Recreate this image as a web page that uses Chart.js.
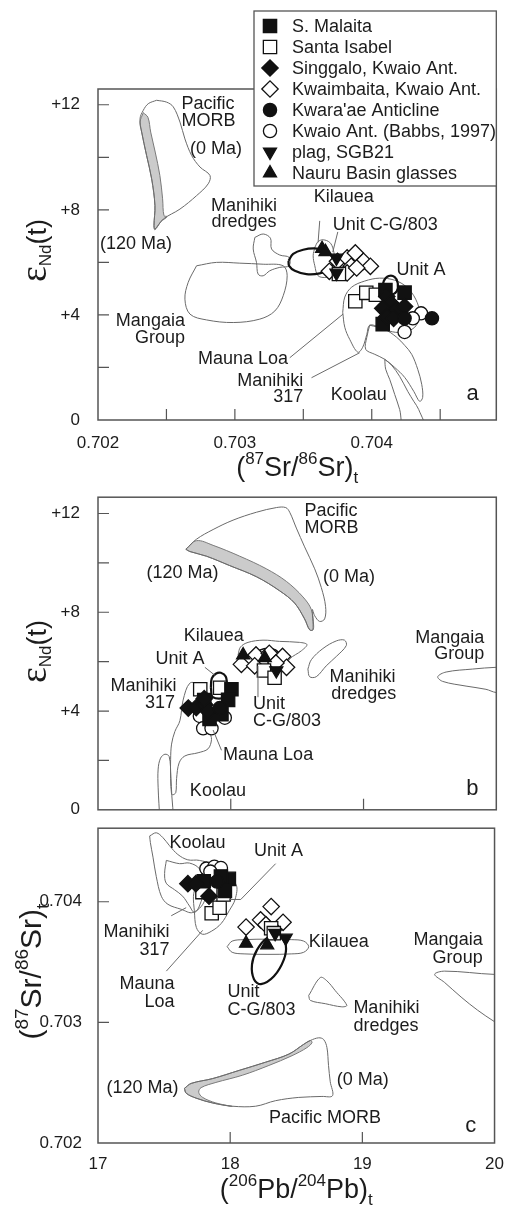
<!DOCTYPE html>
<html>
<head>
<meta charset="utf-8">
<script src="https://cdn.jsdelivr.net/npm/chart.js@4.4.1/dist/chart.umd.min.js"></script>
<style>
  html, body { margin: 0; padding: 0; background: #fff; }
  #wrap { position: relative; width: 507px; height: 1206px; overflow: hidden; }
  #wrap canvas { position: absolute; left: 0; }
</style>
</head>
<body>
<div id="wrap">
  <canvas id="panelA" width="507" height="490" style="top:0px;width:507px;height:490px"></canvas>
  <canvas id="panelB" width="507" height="353" style="top:477px;width:507px;height:353px"></canvas>
  <canvas id="panelC" width="507" height="396" style="top:810px;width:507px;height:396px"></canvas>
</div>
<script>
// ---------------- axis ticks ----------------
const srTickValues = [0.702, 0.7025, 0.703, 0.7035, 0.704, 0.7045];
const srTickLabels = ['0.702', '', '0.703', '', '0.704', ''];
const ndTickValues = [0, 2, 4, 6, 8, 10, 12];
const ndTickLabels = ['0', '', '+4', '', '+8', '', '+12'];
const pbTickValues = [17, 18, 19, 20];
const pbTickLabels = ['17', '18', '19', '20'];
const srYTickValues = [0.702, 0.703, 0.704];
const srYTickLabels = ['0.702', '0.703', '0.704'];

// ---------------- sample groups ----------------
const seriesNames = ['S. Malaita', 'Santa Isabel', 'Singgalo, Kwaio Ant.', 'Kwaimbaita, Kwaio Ant.',
  "Kwara'ae Anticline", 'Kwaio Ant. (Babbs, 1997)', 'plag, SGB21', 'Nauru Basin glasses'];

// (a) 87Sr/86Sr vs eNd
const srNdSMalaita = [[0.70410, 4.95], [0.70424, 4.85], [0.70408, 3.65]];
const srNdSantaIsabel = [[0.70388, 4.52], [0.70396, 4.84], [0.70403, 4.77], [0.70376, 5.56]];
const srNdSinggalo = [[0.70411, 4.70], [0.70414, 4.44], [0.70408, 4.25], [0.70418, 4.18], [0.70411, 3.93], [0.70424, 4.32], [0.70416, 3.87]];
const srNdKwaimbaita = [[0.70375, 6.04], [0.70382, 6.17], [0.70388, 6.36], [0.70385, 5.85], [0.70394, 6.04], [0.70399, 5.85], [0.70382, 5.60], [0.70369, 5.66], [0.70389, 5.79]];
const srNdKwaraae = [[0.70424, 3.87], [0.70444, 3.87]];
const srNdBabbs = [[0.70436, 4.06], [0.70430, 3.87], [0.70424, 3.35]];
const srNdPlag = [[0.703742, 6.17], [0.703742, 5.60]];
const srNdNauru = [[0.703637, 6.52], [0.703662, 6.40]];

// (b) 206Pb/204Pb vs eNd
const pbNdSMalaita = [[18.005, 4.88], [17.98, 4.45], [17.84, 3.68], [17.80, 4.44], [17.93, 3.87]];
const pbNdSantaIsabel = [[17.77, 4.88], [17.92, 4.94], [18.25, 5.64], [18.33, 5.35]];
const pbNdSinggalo = [[17.68, 4.12], [17.74, 4.14], [17.805, 4.25], [17.83, 3.99], [17.80, 4.50]];
const pbNdKwaimbaita = [[18.08, 5.89], [18.19, 6.27], [18.18, 5.83], [18.39, 6.21], [18.42, 5.77], [18.29, 6.34], [18.34, 5.95]];
const pbNdKwaraae = [[17.917, 4.12]];
const pbNdBabbs = [[17.767, 3.80], [17.792, 3.30], [17.855, 3.30], [17.955, 3.73]];
const pbNdPlag = [[18.343, 5.64]];
const pbNdNauru = [[18.093, 6.27], [18.256, 6.15]];

// (c) 206Pb/204Pb vs 87Sr/86Sr
const pbSrSMalaita = [[17.80, 0.70417], [17.99, 0.70419], [17.96, 0.70409], [17.93, 0.70421]];
const pbSrSantaIsabel = [[17.86, 0.703905], [17.92, 0.70395], [17.79, 0.70408], [17.95, 0.70406], [18.31, 0.70378], [18.33, 0.70374]];
const pbSrSinggalo = [[17.68, 0.70415], [17.74, 0.70415], [17.84, 0.704046]];
const pbSrKwaimbaita = [[18.12, 0.70379], [18.23, 0.70385], [18.31, 0.70396], [18.40, 0.70383], [18.27, 0.70381]];
const pbSrKwaraae = [[17.90, 0.704168]];
const pbSrBabbs = [[17.82, 0.704275], [17.88, 0.70429], [17.93, 0.70428], [17.85, 0.70425]];
const pbSrPlag = [[18.42, 0.70370], [18.34, 0.70374]];
const pbSrNauru = [[18.12, 0.703655], [18.28, 0.703641]];

// ---------------- reference fields (outlines) ----------------
// (a)
const aMorb = [[0.702428, 12.17], [0.702501, 12.10], [0.70255, 11.92], [0.702599, 11.34], [0.702635, 10.70], [0.702684, 10.07], [0.702745, 9.63], [0.702818, 9.31], [0.702805, 8.99], [0.70272, 8.54], [0.702599, 8.03], [0.702477, 7.65], [0.702416, 7.27], [0.702409, 7.40], [0.702416, 8.16], [0.702392, 9.18], [0.702355, 10.07], [0.702319, 10.96], [0.702307, 11.47], [0.702331, 11.79], [0.702367, 12.04], [0.702428, 12.17]];
const aMorbOld = [[0.702331, 11.70], [0.702307, 11.34], [0.702319, 10.96], [0.702355, 10.07], [0.702392, 9.18], [0.702416, 8.16], [0.702409, 7.40], [0.702416, 7.24], [0.702460, 7.55], [0.702505, 7.74], [0.702482, 7.78], [0.702472, 8.42], [0.702452, 9.31], [0.702418, 10.20], [0.702385, 10.96], [0.702365, 11.52], [0.702331, 11.70]];
const aMangaia = [[0.70272, 5.87], [0.702866, 6.0], [0.703036, 5.97], [0.703207, 5.93], [0.703353, 5.87], [0.703382, 5.49], [0.703353, 4.73], [0.703292, 4.15], [0.703182, 3.84], [0.702988, 3.71], [0.702793, 3.81], [0.702672, 4.03], [0.702635, 4.6], [0.702659, 5.24], [0.70272, 5.87]];
const aDredges = [[0.703146, 6.95], [0.703207, 7.08], [0.70326, 6.92], [0.703268, 6.51], [0.703328, 6.28], [0.703396, 6.19], [0.703396, 5.87], [0.703328, 5.81], [0.703255, 5.68], [0.703207, 5.49], [0.70317, 5.55], [0.703158, 6.0], [0.703134, 6.51], [0.703146, 6.95]];
const aUnitCG = [[0.703392, 6.06], [0.703426, 6.32], [0.703499, 6.48], [0.703584, 6.53], [0.703657, 6.44], [0.703706, 6.25], [0.703718, 6.0], [0.703693, 5.74], [0.70362, 5.58], [0.703523, 5.55], [0.703438, 5.68], [0.703396, 5.87], [0.703392, 6.06]];
const aKilauea = [[0.703584, 6.57], [0.703608, 6.79], [0.703645, 6.86], [0.703693, 6.76], [0.703718, 6.51], [0.70373, 6.0], [0.703718, 5.55], [0.703669, 5.43], [0.703608, 5.49], [0.703584, 5.87], [0.703572, 6.25], [0.703584, 6.57]];
const aMaunaLoa = [[0.703788, 4.10], [0.703803, 4.68], [0.703854, 5.06], [0.703949, 5.29], [0.704058, 5.40], [0.704168, 5.32], [0.704255, 5.06], [0.704321, 4.60], [0.70435, 4.03], [0.704314, 3.53], [0.704219, 3.34], [0.704131, 3.38], [0.704058, 3.53], [0.703985, 3.61], [0.703964, 3.26], [0.703934, 2.77], [0.703898, 2.58], [0.703839, 3.07], [0.703803, 3.53], [0.703788, 4.10]];
const aManihiki317 = [[0.703985, 3.61], [0.704095, 3.45], [0.704182, 3.15], [0.704241, 2.84], [0.704292, 2.50], [0.704336, 1.93], [0.704365, 1.36], [0.704372, 0.86], [0.70435, 0.71], [0.704307, 1.09], [0.704241, 1.62], [0.704168, 2.00], [0.704095, 2.31], [0.704022, 2.50], [0.703956, 2.69], [0.703964, 3.15], [0.703985, 3.61]];
const aKoolau = [[0.704095, 2.31], [0.704146, 2.08], [0.704204, 1.66], [0.704263, 1.09], [0.704307, 0.71], [0.704343, 0.40], [0.704387, -0.36], [0.70424, -0.36], [0.704204, 0.40], [0.704168, 0.97], [0.704131, 1.55], [0.704102, 1.93], [0.704095, 2.31]];
const aUnitA = [[0.70408, 4.98], [0.704088, 5.29], [0.704124, 5.48], [0.704168, 5.44], [0.70419, 5.21], [0.704182, 4.90], [0.704131, 4.75], [0.70408, 4.98]];

// (b)
const bMorb = [[17.662, 10.55], [17.742, 10.96], [17.867, 11.35], [18.017, 11.73], [18.193, 12.05], [18.344, 12.24], [18.414, 12.24], [18.444, 12.05], [18.494, 11.41], [18.556, 10.65], [18.632, 9.76], [18.682, 9.0], [18.714, 8.24], [18.707, 7.73], [18.669, 7.63], [18.632, 7.86], [18.614, 8.11], [18.619, 7.29], [18.594, 7.29], [18.556, 7.73], [18.481, 8.37], [18.368, 8.87], [18.193, 9.44], [17.992, 9.89], [17.817, 10.27], [17.692, 10.46], [17.662, 10.55]];
const bMorbOld = [[17.662, 10.55], [17.742, 10.90], [17.867, 10.71], [18.068, 10.27], [18.268, 9.76], [18.419, 9.25], [18.544, 8.62], [18.607, 8.11], [18.624, 7.48], [18.619, 7.29], [18.594, 7.29], [18.556, 7.73], [18.481, 8.37], [18.368, 8.87], [18.193, 9.44], [17.992, 9.89], [17.817, 10.27], [17.692, 10.46], [17.662, 10.55]];
const bKilauea = [[18.055, 6.27], [18.073, 6.59], [18.130, 6.78], [18.243, 6.87], [18.368, 6.82], [18.519, 6.78], [18.574, 6.69], [18.532, 6.44], [18.444, 6.11], [18.414, 5.77], [18.368, 5.51], [18.268, 5.45], [18.168, 5.64], [18.093, 5.89], [18.055, 6.27]];
const bUnitCG = [[18.192, 6.16], [18.205, 6.40], [18.25, 6.52], [18.31, 6.52], [18.355, 6.40], [18.364, 6.16], [18.35, 5.92], [18.30, 5.80], [18.25, 5.80], [18.205, 5.92], [18.192, 6.16]];
const bDredges = [[18.581, 5.70], [18.607, 6.08], [18.694, 6.53], [18.795, 6.84], [18.857, 6.87], [18.870, 6.65], [18.795, 6.21], [18.719, 5.83], [18.644, 5.39], [18.594, 5.39], [18.581, 5.70]];
const bMangaia = [[20.3, 5.80], [19.998, 5.77], [19.822, 5.70], [19.622, 5.58], [19.559, 5.39], [19.596, 5.20], [19.772, 5.01], [19.922, 4.88], [19.998, 4.75], [20.3, 4.60]];
const bManihiki317 = [[17.767, 5.10], [17.692, 5.13], [17.641, 4.44], [17.617, 3.61], [17.579, 3.17], [17.554, 2.66], [17.547, 2.03], [17.547, 1.27], [17.554, 0.63], [17.566, 0.61], [17.586, 0.70], [17.592, 1.27], [17.611, 1.90], [17.654, 2.18], [17.754, 2.31], [17.829, 2.47], [17.855, 2.85], [17.842, 3.17], [17.857, 3.80], [17.842, 4.56], [17.767, 5.10]];
const bKoolau = [[17.466, -0.4], [17.453, 0.89], [17.453, 1.65], [17.471, 2.09], [17.504, 2.25], [17.536, 2.16], [17.549, 1.33], [17.556, 0.57], [17.571, -0.4]];
const bUnitA = [[17.850, 4.94], [17.857, 5.32], [17.887, 5.51], [17.925, 5.55], [17.962, 5.40], [17.970, 5.02], [17.955, 4.56], [17.865, 4.56], [17.850, 4.94]];

// (c)
const cMorb = [[17.654, 0.702453], [17.705, 0.702494], [17.867, 0.702534], [18.068, 0.702602], [18.268, 0.70267], [18.444, 0.702737], [18.556, 0.702818], [18.607, 0.70285], [18.669, 0.702872], [18.707, 0.702858], [18.732, 0.702791], [18.744, 0.702643], [18.757, 0.702508], [18.774, 0.702392], [18.694, 0.702386], [18.519, 0.702378], [18.344, 0.702351], [18.193, 0.702305], [18.017, 0.702305], [17.867, 0.702332], [17.742, 0.702372], [17.667, 0.702413], [17.654, 0.702453]];
const cMorbOld = [[17.654, 0.702453], [17.705, 0.702494], [17.867, 0.702534], [18.068, 0.702602], [18.268, 0.70267], [18.444, 0.702737], [18.556, 0.702818], [18.607, 0.70285], [18.619, 0.702832], [18.581, 0.702791], [18.468, 0.702724], [18.293, 0.702643], [18.093, 0.702562], [17.892, 0.702502], [17.78, 0.702459], [17.762, 0.702421], [17.792, 0.702378], [17.892, 0.702332], [18.017, 0.702303], [17.867, 0.702332], [17.742, 0.702372], [17.667, 0.702413], [17.654, 0.702453]];
const cKoolau = [[17.391, 0.704546], [17.441, 0.704572], [17.491, 0.704532], [17.541, 0.704465], [17.604, 0.704392], [17.679, 0.704348], [17.767, 0.704343], [17.842, 0.704305], [17.805, 0.704006], [17.717, 0.703911], [17.629, 0.703938], [17.529, 0.703979], [17.479, 0.704046], [17.441, 0.704208], [17.416, 0.70437], [17.396, 0.704492], [17.391, 0.704546]];
const cManihiki317 = [[17.517, 0.704343], [17.504, 0.704235], [17.516, 0.704154], [17.579, 0.7041], [17.641, 0.704046], [17.692, 0.703965], [17.729, 0.703911], [17.767, 0.703965], [17.805, 0.704127], [17.767, 0.704273], [17.692, 0.704321], [17.617, 0.704316], [17.517, 0.704343]];
const cMaunaLoa = [[17.737, 0.704127], [17.805, 0.704208], [17.955, 0.704224], [18.045, 0.704143], [18.038, 0.704022], [17.992, 0.703925], [17.932, 0.70382], [17.857, 0.703755], [17.789, 0.703731], [17.744, 0.703787], [17.729, 0.703925], [17.722, 0.704046], [17.737, 0.704127]];
const cKilauea = [[17.977, 0.703628], [18.015, 0.703674], [18.105, 0.703686], [18.286, 0.70369], [18.466, 0.703686], [18.556, 0.703674], [18.594, 0.703628], [18.556, 0.703581], [18.466, 0.703568], [18.286, 0.703564], [18.105, 0.703568], [18.015, 0.703581], [17.977, 0.703628]];
const cUnitCG = [[18.381, 0.703722], [18.421, 0.703641], [18.406, 0.70352], [18.331, 0.703382], [18.233, 0.703317], [18.180, 0.703358], [18.165, 0.703479], [18.203, 0.703601], [18.278, 0.703698], [18.381, 0.703722]];
const cDredges = [[18.594, 0.703223], [18.682, 0.703372], [18.732, 0.703344], [18.795, 0.703263], [18.882, 0.703142], [18.844, 0.703129], [18.720, 0.703155], [18.607, 0.703182], [18.594, 0.703223]];
const cMangaia = [[20.3, 0.70340], [19.998, 0.703398], [19.622, 0.703425], [19.547, 0.703398], [19.622, 0.703331], [19.747, 0.70321], [19.872, 0.703101], [19.998, 0.703007], [20.3, 0.70280]];

// ---------------- drawing styles ----------------
const FONT = '"Liberation Sans", Arial, Helvetica, sans-serif';
const INK = '#1c1c1c';
const markerStyles = [
  { pointStyle: 'rect', radius: 9.4, fill: '#111', rotation: 0, order: 6 },
  { pointStyle: 'rect', radius: 9.4, fill: '#fff', rotation: 0, order: 8 },
  { pointStyle: 'rectRot', radius: 8.2, fill: '#111', rotation: 0, order: 5 },
  { pointStyle: 'rectRot', radius: 8.2, fill: '#fff', rotation: 0, order: 9 },
  { pointStyle: 'circle', radius: 6.6, fill: '#111', rotation: 0, order: 4 },
  { pointStyle: 'circle', radius: 6.6, fill: '#fff', rotation: 0, order: 7 },
  { pointStyle: 'triangle', radius: 7.5, fill: '#111', rotation: 180, order: 3 },
  { pointStyle: 'triangle', radius: 7.5, fill: '#111', rotation: 0, order: 2 }
];

const toXY = arr => arr.map(([x, y]) => ({ x, y }));

function markerSets(groups) {
  return groups.map((g, i) => {
    const s = markerStyles[i];
    return {
      type: 'scatter', label: seriesNames[i], data: toXY(g), order: s.order,
      pointStyle: s.pointStyle, pointRadius: s.radius, pointRotation: s.rotation,
      pointBackgroundColor: s.fill, pointBorderColor: '#111', pointBorderWidth: 1.3,
      pointHoverRadius: s.radius, showLine: false
    };
  });
}
function field(arr, kind) {
  const base = { type: 'line', data: toXY(arr), pointRadius: 0, pointHoverRadius: 0, tension: 0.35, order: 100 };
  if (kind === 'shade') return Object.assign(base, { order: 101, fill: 'shape', backgroundColor: '#cbcbcb', borderColor: '#7a7a7a', borderWidth: 1 });
  if (kind === 'bold') return Object.assign(base, { order: 90, fill: false, borderColor: '#111', borderWidth: 2.2 });
  return Object.assign(base, { fill: false, borderColor: '#6a6a6a', borderWidth: 1 });
}

// ---------------- rich text (sub/superscripts) ----------------
function richParts(spec, F, S) {
  return spec.map(([t, kind]) => {
    if (kind === 'sup') return { t, font: `${S}px ${FONT}`, dy: -0.42 * F };
    if (kind === 'sub') return { t, font: `${S}px ${FONT}`, dy: 0.28 * F };
    if (kind === 'eps') return { t, font: `${F * 1.4}px "Liberation Serif", "DejaVu Serif", serif`, dy: 0 };
    if (kind === 'nd') return { t, font: `${S}px ${FONT}`, dy: 0.2 * F };
    return { t, font: `${F}px ${FONT}`, dy: 0 };
  });
}
function drawRich(ctx, parts, cx, cy, rot, F) {
  ctx.save();
  ctx.translate(cx, cy);
  ctx.rotate(rot);
  let w = 0;
  parts.forEach(p => { ctx.font = p.font; p.w = ctx.measureText(p.t).width; w += p.w; });
  let x = -w / 2;
  ctx.textAlign = 'left';
  ctx.textBaseline = 'alphabetic';
  ctx.fillStyle = INK;
  parts.forEach(p => { ctx.font = p.font; ctx.fillText(p.t, x, 0.36 * F + p.dy); x += p.w; });
  ctx.restore();
}
const srTitle = [['(', 'n'], ['87', 'sup'], ['Sr', 'n'], ['/', 'n'], ['86', 'sup'], ['Sr', 'n'], [')', 'n'], ['t', 'sub']];
const pbTitle = [['(', 'n'], ['206', 'sup'], ['Pb', 'n'], ['/', 'n'], ['204', 'sup'], ['Pb', 'n'], [')', 'n'], ['t', 'sub']];
const ndTitle = [['\u03B5', 'eps'], ['Nd', 'nd'], ['(t)', 'n']];

// ---------------- panel plugin: frame, inner ticks, labels, titles, legend ----------------
const panelSetup = {};
const panelPlugin = {
  id: 'panelDecor',
  afterDatasetsDraw(chart) {
    const cfg = panelSetup[chart.canvas.id];
    const ctx = chart.ctx, xs = chart.scales.x, ys = chart.scales.y;
    ctx.save();
    ctx.strokeStyle = '#6a6a6a';
    ctx.lineWidth = 1;
    cfg.leaders.forEach(path => {
      ctx.beginPath();
      path.forEach(([x, y], i) => {
        const px = xs.getPixelForValue(x), py = ys.getPixelForValue(y);
        if (i) ctx.lineTo(px, py); else ctx.moveTo(px, py);
      });
      ctx.stroke();
    });
    ctx.fillStyle = INK;
    ctx.textBaseline = 'middle';
    cfg.labels.forEach(l => {
      ctx.font = `${l.size || 18}px ${FONT}`;
      ctx.textAlign = l.align || 'center';
      ctx.fillText(l.text, xs.getPixelForValue(l.x), ys.getPixelForValue(l.y));
    });
    ctx.restore();
  },
  afterDraw(chart) {
    const cfg = panelSetup[chart.canvas.id];
    const ctx = chart.ctx, xs = chart.scales.x, ys = chart.scales.y, a = chart.chartArea;
    ctx.save();
    ctx.strokeStyle = '#555';
    ctx.lineWidth = 1.5;
    ctx.strokeRect(a.left, a.top, a.right - a.left, a.bottom - a.top);
    ctx.lineWidth = 1.2;
    ctx.beginPath();
    cfg.xMarks.forEach(v => { const px = xs.getPixelForValue(v); ctx.moveTo(px, a.bottom); ctx.lineTo(px, a.bottom - 11); });
    cfg.yMarks.forEach(v => { const py = ys.getPixelForValue(v); ctx.moveTo(a.left, py); ctx.lineTo(a.left + 11, py); });
    ctx.stroke();
    ctx.restore();
    if (cfg.xTitle) drawRich(ctx, richParts(cfg.xTitle, 27, 17), (a.left + a.right) / 2, a.bottom + cfg.xTitleGap, 0, 27);
    if (cfg.yTitle) drawRich(ctx, richParts(cfg.yTitle, cfg.yTitleSize, cfg.yTitleSub), cfg.yTitleX, (a.top + a.bottom) / 2 + cfg.yTitleShift, -Math.PI / 2, cfg.yTitleSize);
    if (cfg.legend) drawLegend(ctx, a);
  }
};

function drawLegend(ctx, a) {
  const left = 254, top = 11, right = a.right, bottom = 186;
  ctx.save();
  ctx.fillStyle = '#fff';
  ctx.fillRect(left, top, right - left, bottom - top);
  ctx.strokeStyle = '#555';
  ctx.lineWidth = 1.3;
  ctx.strokeRect(left, top, right - left, bottom - top);
  seriesNames.forEach((name, i) => {
    const s = markerStyles[i];
    const y = top + 15 + i * 21;
    ctx.fillStyle = s.fill;
    ctx.strokeStyle = '#111';
    ctx.lineWidth = 1.3;
    Chart.helpers.drawPoint(ctx, { pointStyle: s.pointStyle, rotation: s.rotation, radius: s.radius, borderWidth: 1.3 }, 270, y);
    ctx.fillStyle = INK;
    ctx.font = `18px ${FONT}`;
    ctx.textAlign = 'left';
    ctx.textBaseline = 'middle';
    ctx.fillText(name, 292, y + 1);
  });
  ctx.restore();
}

function axisCfg(min, max, values, labels, showLabels, fitKey, fitVal, pad) {
  return {
    type: 'linear', min, max,
    grid: { display: false }, border: { display: false },
    ticks: {
      display: showLabels, autoSkip: false, maxRotation: 0, padding: pad,
      color: INK, font: { family: FONT, size: 17 },
      callback: (v, i) => labels[i]
    },
    afterBuildTicks: s => { s.ticks = values.map(v => ({ value: v })); },
    afterFit: s => { s[fitKey] = fitVal; }
  };
}

function makePanel(id, datasets, opts) {
  panelSetup[id] = opts.decor;
  return new Chart(document.getElementById(id), {
    type: 'scatter',
    data: { datasets },
    options: {
      responsive: false, animation: false, events: [],
      layout: { padding: { top: opts.padTop, right: 10, bottom: 0, left: 0 } },
      plugins: { legend: { display: false }, tooltip: { enabled: false } },
      scales: { x: opts.x, y: opts.y }
    },
    plugins: [panelPlugin]
  });
}

// ---------- panel a ----------
makePanel('panelA', [
  ...markerSets([srNdSMalaita, srNdSantaIsabel, srNdSinggalo, srNdKwaimbaita, srNdKwaraae, srNdBabbs, srNdPlag, srNdNauru]),
  field(aMorbOld, 'shade'), field(aMorb), field(aMangaia), field(aDredges), field(aKilauea),
  field(aMaunaLoa), field(aManihiki317), field(aKoolau),
  field(aUnitCG, 'bold'), field(aUnitA, 'bold')
], {
  padTop: 89,
  x: axisCfg(0.702, 0.70491, srTickValues, srTickLabels, true, 'height', 70, 5),
  y: axisCfg(0, 12.6, ndTickValues, ndTickLabels, true, 'width', 98, 10),
  decor: {
    xMarks: srTickValues.slice(1), yMarks: ndTickValues.slice(1),
    xTitle: srTitle, xTitleGap: 46,
    yTitle: ndTitle, yTitleSize: 27, yTitleSub: 17, yTitleX: 36, yTitleShift: -4,
    legend: true,
    labels: [
      { text: 'Pacific', x: 0.70261, y: 12.02, align: 'left' },
      { text: 'MORB', x: 0.70261, y: 11.38, align: 'left' },
      { text: '(0 Ma)', x: 0.702672, y: 10.32, align: 'left' },
      { text: '(120 Ma)', x: 0.702015, y: 6.70, align: 'left' },
      { text: 'Manihiki', x: 0.703066, y: 8.16 },
      { text: 'dredges', x: 0.703066, y: 7.53 },
      { text: 'Kilauea', x: 0.703796, y: 8.48 },
      { text: 'Unit C-G/803', x: 0.703715, y: 7.44, align: 'left' },
      { text: 'Unit A', x: 0.70418, y: 5.71, align: 'left' },
      { text: 'Mangaia', x: 0.702635, y: 3.77, align: 'right' },
      { text: 'Group', x: 0.702635, y: 3.11, align: 'right' },
      { text: 'Mauna Loa', x: 0.703389, y: 2.31, align: 'right' },
      { text: 'Manihiki', x: 0.703499, y: 1.48, align: 'right' },
      { text: '317', x: 0.703499, y: 0.88, align: 'right' },
      { text: 'Koolau', x: 0.703905, y: 0.94 },
      { text: 'a', x: 0.704737, y: 1.01, size: 22 }
    ],
    leaders: [
      [[0.70362, 7.58], [0.703608, 6.76]],
      [[0.703752, 7.16], [0.703715, 6.39]],
      [[0.703401, 2.37], [0.70379, 4.03]],
      [[0.70356, 1.61], [0.703912, 2.56]]
    ]
  }
});

// ---------- panel b ----------
makePanel('panelB', [
  ...markerSets([pbNdSMalaita, pbNdSantaIsabel, pbNdSinggalo, pbNdKwaimbaita, pbNdKwaraae, pbNdBabbs, pbNdPlag, pbNdNauru]),
  field(bMorbOld, 'shade'), field(bMorb), field(bKilauea), field(bDredges), field(bMangaia),
  field(bManihiki317), field(bKoolau),
  Object.assign(field(bUnitCG, 'bold'), { borderWidth: 1.6 }), field(bUnitA, 'bold')
], {
  padTop: 10,
  x: axisCfg(17, 20, pbTickValues, pbTickLabels, false, 'height', 10, 0),
  y: axisCfg(0, 12.66, ndTickValues, ndTickLabels, true, 'width', 98, 10),
  decor: {
    xMarks: [18, 19], yMarks: ndTickValues.slice(1),
    yTitle: ndTitle, yTitleSize: 27, yTitleSub: 17, yTitleX: 36, yTitleShift: -2,
    labels: [
      { text: 'Pacific', x: 18.556, y: 12.10, align: 'left' },
      { text: 'MORB', x: 18.556, y: 11.41, align: 'left' },
      { text: '(120 Ma)', x: 17.366, y: 9.57, align: 'left' },
      { text: '(0 Ma)', x: 18.694, y: 9.44, align: 'left' },
      { text: 'Kilauea', x: 17.872, y: 7.03 },
      { text: 'Mangaia', x: 19.91, y: 6.97, align: 'right' },
      { text: 'Group', x: 19.91, y: 6.31, align: 'right' },
      { text: 'Unit A', x: 17.617, y: 6.11 },
      { text: 'Manihiki', x: 17.592, y: 5.01, align: 'right' },
      { text: '317', x: 17.58, y: 4.31, align: 'right' },
      { text: 'Unit', x: 18.168, y: 4.28, align: 'left' },
      { text: 'C-G/803', x: 18.168, y: 3.58, align: 'left' },
      { text: 'Manihiki', x: 18.744, y: 5.39, align: 'left' },
      { text: 'dredges', x: 18.757, y: 4.69, align: 'left' },
      { text: 'Mauna Loa', x: 17.942, y: 2.22, align: 'left' },
      { text: 'Koolau', x: 17.692, y: 0.76, align: 'left' },
      { text: 'b', x: 19.82, y: 0.84, size: 22 }
    ],
    leaders: [
      [[17.805, 5.77], [17.88, 5.45]],
      [[18.205, 4.56], [18.205, 5.83]],
      [[17.93, 2.41], [17.867, 3.23]]
    ]
  }
});

// ---------- panel c ----------
makePanel('panelC', [
  ...markerSets([pbSrSMalaita, pbSrSantaIsabel, pbSrSinggalo, pbSrKwaimbaita, pbSrKwaraae, pbSrBabbs, pbSrPlag, pbSrNauru]),
  field(cMorbOld, 'shade'), field(cMorb), field(cKoolau), field(cManihiki317), field(cMaunaLoa),
  field(cKilauea), field(cDredges), field(cMangaia),
  field(cUnitCG, 'bold')
], {
  padTop: 10,
  x: axisCfg(17, 20, pbTickValues, pbTickLabels, true, 'height', 63, 3),
  y: axisCfg(0.702, 0.70461, srYTickValues, srYTickLabels, true, 'width', 98, 8),
  decor: {
    xMarks: [18, 19], yMarks: [0.703, 0.704],
    xTitle: pbTitle, xTitleGap: 45,
    yTitle: srTitle, yTitleSize: 30, yTitleSub: 19, yTitleX: 30, yTitleShift: -14,
    labels: [
      { text: 'Koolau', x: 17.541, y: 0.704491, align: 'left' },
      { text: 'Unit A', x: 18.18, y: 0.704424, align: 'left' },
      { text: 'Manihiki', x: 17.541, y: 0.703749, align: 'right' },
      { text: '317', x: 17.541, y: 0.703601, align: 'right' },
      { text: 'Mauna', x: 17.579, y: 0.703317, align: 'right' },
      { text: 'Loa', x: 17.579, y: 0.703169, align: 'right' },
      { text: 'Kilauea', x: 18.594, y: 0.703668, align: 'left' },
      { text: 'Mangaia', x: 19.91, y: 0.703682, align: 'right' },
      { text: 'Group', x: 19.91, y: 0.703534, align: 'right' },
      { text: 'Unit', x: 17.98, y: 0.70325, align: 'left' },
      { text: 'C-G/803', x: 17.98, y: 0.703101, align: 'left' },
      { text: 'Manihiki', x: 18.932, y: 0.703115, align: 'left' },
      { text: 'dredges', x: 18.932, y: 0.702967, align: 'left' },
      { text: '(120 Ma)', x: 17.065, y: 0.702453, align: 'left' },
      { text: '(0 Ma)', x: 18.807, y: 0.702521, align: 'left' },
      { text: 'Pacific MORB', x: 18.293, y: 0.702211, align: 'left' },
      { text: 'c', x: 19.82, y: 0.702143, size: 22 }
    ],
    leaders: [
      [[18.344, 0.704316], [18.08, 0.704019], [17.992, 0.704019]],
      [[17.554, 0.703884], [17.667, 0.703951]],
      [[17.517, 0.703425], [17.792, 0.703763]]
    ]
  }
});
</script>
</body>
</html>
